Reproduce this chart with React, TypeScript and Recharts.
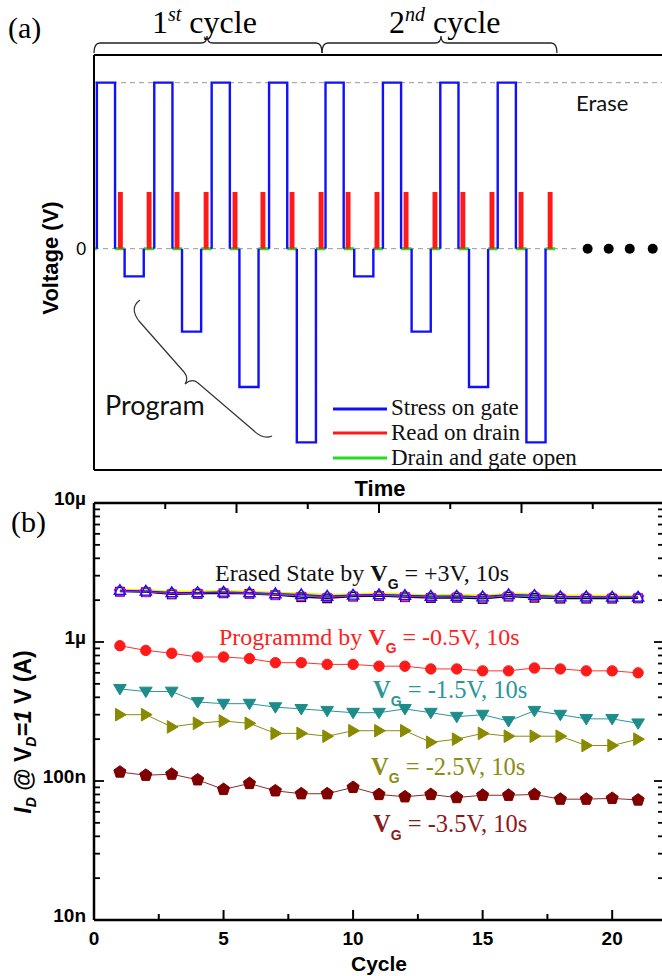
import { ComposedChart, Line, Scatter, XAxis, YAxis, ReferenceLine } from 'recharts';

// ---------- (a) pulse scheme: time in arbitrary units, voltage in V ----------
const eraseWindows = [[1.5, 11], [31.5, 41], [61.5, 71], [91.5, 101], [121, 130.5], [151, 160.5], [181, 190.5], [211, 220.5]];
const eraseLevels = [3, 3, 3, 3, 3, 3, 3, 3];
const programWindows = [[16, 26], [46, 56], [76, 86], [106, 116], [136, 146], [166, 176], [196, 206], [226, 236]];
const programLevels = [-0.5, -1.5, -2.5, -3.5, -0.5, -1.5, -2.5, -3.5];
const readWindows = [
  [13.2, 14.4], [28.2, 29.4], [42.8, 44], [58, 59.2], [73.1, 74.3], [87.7, 88.9], [102.9, 104.1], [118.1, 119.3],
  [132.2, 133.4], [147.3, 148.5], [162.5, 163.7], [177.6, 178.8], [192.2, 193.4], [207.4, 208.6], [222.6, 223.8], [237.8, 239],
];
const readLevels = [1, 1, 1, 1, 1, 1, 1, 1, 1, 1, 1, 1, 1, 1, 1, 1];
const openWindows = [
  [0, 1.5], [11, 16], [26, 31.5], [41, 46], [56, 61.5], [71, 76], [86, 91.5], [101, 106], [116, 121],
  [130.5, 136], [146, 151], [160.5, 166], [176, 181], [190.5, 196], [206, 211], [220.5, 226], [236, 241],
];
const ellipsisTimes = [258, 269, 280, 292];

// ---------- (b) retention vs cycle, current in µA ----------
const cycles = [1, 2, 3, 4, 5, 6, 7, 8, 9, 10, 11, 12, 13, 14, 15, 16, 17, 18, 19, 20, 21];
const erasedBlack = [2.30, 2.28, 2.20, 2.22, 2.24, 2.22, 2.17, 2.10, 2.06, 2.12, 2.14, 2.10, 2.07, 2.08, 2.04, 2.12, 2.08, 2.05, 2.05, 2.05, 2.06];
const erasedYellow = [2.38, 2.36, 2.30, 2.30, 2.32, 2.30, 2.26, 2.24, 2.18, 2.20, 2.24, 2.20, 2.17, 2.18, 2.16, 2.22, 2.20, 2.16, 2.16, 2.15, 2.14];
const erasedGreen = [2.34, 2.32, 2.25, 2.26, 2.28, 2.25, 2.21, 2.17, 2.13, 2.16, 2.18, 2.15, 2.12, 2.13, 2.11, 2.18, 2.15, 2.10, 2.10, 2.10, 2.10];
const erasedCyan = [2.33, 2.30, 2.24, 2.25, 2.27, 2.24, 2.20, 2.15, 2.10, 2.15, 2.17, 2.13, 2.10, 2.11, 2.08, 2.15, 2.12, 2.08, 2.09, 2.08, 2.08];
const erasedBlue = [2.36, 2.33, 2.27, 2.27, 2.29, 2.27, 2.23, 2.20, 2.14, 2.18, 2.20, 2.17, 2.14, 2.14, 2.12, 2.20, 2.17, 2.12, 2.12, 2.11, 2.11];
const erasedMagenta = [2.32, 2.30, 2.23, 2.25, 2.27, 2.23, 2.19, 2.15, 2.11, 2.15, 2.16, 2.13, 2.11, 2.12, 2.09, 2.16, 2.14, 2.10, 2.10, 2.09, 2.09];
const prog05 = [0.94, 0.87, 0.83, 0.78, 0.78, 0.76, 0.71, 0.71, 0.69, 0.69, 0.67, 0.67, 0.64, 0.64, 0.62, 0.62, 0.65, 0.64, 0.62, 0.62, 0.60];
const prog15 = [0.46, 0.44, 0.44, 0.37, 0.36, 0.36, 0.34, 0.33, 0.32, 0.31, 0.31, 0.33, 0.31, 0.29, 0.30, 0.27, 0.32, 0.30, 0.28, 0.28, 0.26];
const prog25 = [0.30, 0.30, 0.245, 0.26, 0.27, 0.26, 0.22, 0.22, 0.21, 0.23, 0.23, 0.23, 0.19, 0.20, 0.22, 0.21, 0.21, 0.21, 0.18, 0.18, 0.20];
const prog35 = [0.116, 0.110, 0.112, 0.102, 0.087, 0.096, 0.085, 0.081, 0.081, 0.090, 0.080, 0.077, 0.080, 0.076, 0.079, 0.079, 0.080, 0.074, 0.074, 0.075, 0.073];
const cycleTicks = [0, 2.5, 5, 7.5, 10, 12.5, 15, 17.5, 20];
const currentTicks = [
  0.01, 0.02, 0.03, 0.04, 0.05, 0.06, 0.07, 0.08, 0.09,
  0.1, 0.2, 0.3, 0.4, 0.5, 0.6, 0.7, 0.8, 0.9,
  1, 2, 3, 4, 5, 6, 7, 8, 9, 10,
];
const currentLabels: Record<string, string> = { '0.01': '10n', '0.1': '100n', '1': '1µ', '10': '10µ' };

type Pt = { t: number; v: number | null };
const pulseTrace = (win: number[][], lv: number[]): Pt[] =>
  win.flatMap(([s, e], i) => [
    { t: s, v: 0 }, { t: s, v: lv[i] }, { t: e, v: lv[i] }, { t: e, v: 0 }, { t: e, v: null },
  ]);
const gateTrace = [...pulseTrace(eraseWindows, eraseLevels), ...pulseTrace(programWindows, programLevels)];
const readTrace = pulseTrace(readWindows, readLevels);
const openTrace: Pt[] = openWindows.flatMap(([s, e]) => [{ t: s, v: 0 }, { t: e, v: 0 }, { t: e, v: null }]);
const ellipsis = ellipsisTimes.map((t) => ({ t, v: 0 }));

const rows = cycles.map((c, i) => ({
  cycle: c,
  eBlack: erasedBlack[i], eYellow: erasedYellow[i], eGreen: erasedGreen[i], eCyan: erasedCyan[i],
  eBlue: erasedBlue[i], eMagenta: erasedMagenta[i],
  p05: prog05[i], p15: prog15[i], p25: prog25[i], p35: prog35[i],
}));

const SERIF = 'Liberation Serif, Times New Roman, serif';
const SANS = 'Liberation Sans, Arial, sans-serif';
const CAL = 'Lato, Open Sans, sans-serif';

const marker = (kind: string, color: string, filled: boolean, r = 5.5) => (p: any) => {
  const { cx, cy, index } = p;
  const k = `${kind}${color}${index}`;
  if (cx == null || cy == null || Number.isNaN(cy)) return <g key={k} />;
  const fill = filled ? color : 'none';
  const sw = filled ? 1 : 1.3;
  if (kind === 'circle') return <circle key={k} cx={cx} cy={cy} r={r} fill={fill} stroke={color} strokeWidth={sw} />;
  if (kind === 'square') return <rect key={k} x={cx - r * 0.85} y={cy - r * 0.85} width={r * 1.7} height={r * 1.7} fill={fill} stroke={color} strokeWidth={sw} />;
  let pts: number[][] = [];
  if (kind === 'down') pts = [[cx - r * 1.15, cy - r * 0.8], [cx + r * 1.15, cy - r * 0.8], [cx, cy + r * 1.1]];
  if (kind === 'up') pts = [[cx - r * 1.1, cy + r * 0.8], [cx + r * 1.1, cy + r * 0.8], [cx, cy - r * 1.1]];
  if (kind === 'right') pts = [[cx - r * 0.8, cy - r * 1.15], [cx + r * 1.15, cy], [cx - r * 0.8, cy + r * 1.15]];
  if (kind === 'pent') pts = [0, 1, 2, 3, 4].map((j) => {
    const a = (-90 + 72 * j) * Math.PI / 180;
    return [cx + r * 1.1 * Math.cos(a), cy + r * 1.1 * Math.sin(a)];
  });
  return <polygon key={k} points={pts.map((q) => q.join(',')).join(' ')} fill={fill} stroke={color} strokeWidth={sw} />;
};

const BottomTick = (p: any) => {
  const { x, y, payload } = p;
  const major = payload.value % 5 === 0;
  return (
    <g>
      <line x1={x} y1={y} x2={x} y2={y - (major ? 10 : 6)} stroke="#000" strokeWidth={2} />
      {major && (
        <text x={x} y={y + 25} textAnchor="middle" fontFamily={SANS} fontWeight="bold" fontSize={19} fill="#000">
          {payload.value}
        </text>
      )}
    </g>
  );
};
const TopTick = (p: any) => {
  const { x, y, payload } = p;
  const major = payload.value % 5 === 0;
  return <line x1={x} y1={y} x2={x} y2={y + (major ? 10 : 6)} stroke="#000" strokeWidth={2} />;
};
const LeftTick = (p: any) => {
  const { x, y, payload } = p;
  const lab = currentLabels[String(payload.value)];
  return (
    <g>
      <line x1={x} y1={y} x2={x + (lab ? 10 : 6)} y2={y} stroke="#000" strokeWidth={1.8} />
      {lab && (
        <text x={x - 8} y={y + 2} textAnchor="end" fontFamily={SANS} fontWeight="bold" fontSize={19} fill="#000">
          {lab}
        </text>
      )}
    </g>
  );
};
const RightTick = (p: any) => {
  const { x, y, payload } = p;
  const lab = currentLabels[String(payload.value)];
  return <line x1={x} y1={y} x2={x - (lab ? 10 : 6)} y2={y} stroke="#000" strokeWidth={1.8} />;
};

const VG = ({ color, dy = 8 }: { color: string; dy?: number }) => (
  <>
    <tspan fontWeight="bold">V</tspan>
    <tspan fontFamily={SANS} fontWeight="bold" fontSize={14} dy={dy} fill={color}>G</tspan>
  </>
);

const PanelA = () => (
  <ComposedChart width={668} height={500} margin={{ top: 55, right: 0, bottom: 0, left: 0 }}>
    <XAxis dataKey="t" type="number" domain={[0, 300]} allowDataOverflow tick={false} tickLine={false}
      axisLine={{ stroke: '#000', strokeWidth: 2 }} height={30} />
    <YAxis dataKey="v" type="number" domain={[-4, 3.5]} allowDataOverflow ticks={[0]} tickLine={false}
      axisLine={{ stroke: '#000', strokeWidth: 2 }} width={94}
      tick={{ fill: '#000', fontSize: 17, fontFamily: CAL }} />
    <ReferenceLine y={3.5} stroke="#000" strokeWidth={2} />
    <ReferenceLine y={3} stroke="#9a9a9a" strokeDasharray="5 4" />
    <ReferenceLine segment={[{ x: 0, y: 0 }, { x: 252, y: 0 }]} stroke="#9a9a9a" strokeDasharray="5 4" />
    <Line data={openTrace} dataKey="v" stroke="#22dd22" strokeWidth={3} dot={false} isAnimationActive={false} />
    <Line data={readTrace} dataKey="v" stroke="#ff1a1a" strokeWidth={2.6} dot={false} isAnimationActive={false} />
    <Line data={gateTrace} dataKey="v" stroke="#1010ff" strokeWidth={2.4} dot={false} isAnimationActive={false} />
    <Scatter data={ellipsis} dataKey="v" isAnimationActive={false}
      shape={(p: any) => <circle cx={p.cx} cy={p.cy} r={5} fill="#000" />} />
  </ComposedChart>
);

const PanelB = () => (
  <ComposedChart width={700} height={496} data={rows} margin={{ top: 22, right: 0, bottom: 0, left: 0 }}>
    <XAxis dataKey="cycle" type="number" domain={[0, 22]} ticks={cycleTicks} interval={0} tickSize={0} tickMargin={0}
      tick={BottomTick} axisLine={{ stroke: '#000', strokeWidth: 2.5 }} height={56}
      label={{ value: 'Cycle', position: 'insideBottom', offset: 5, fill: '#000', fontFamily: SANS, fontWeight: 'bold', fontSize: 21 }} />
    <XAxis xAxisId="top" orientation="top" type="number" domain={[0, 22]} ticks={cycleTicks} interval={0}
      tickSize={0} tickMargin={0} tick={TopTick} axisLine={{ stroke: '#000', strokeWidth: 2.5 }} height={1} />
    <YAxis type="number" scale="log" domain={[0.01, 10]} allowDataOverflow ticks={currentTicks} interval={0}
      tickSize={0} tickMargin={0} tick={LeftTick} axisLine={{ stroke: '#000', strokeWidth: 2.5 }} width={94} />
    <YAxis yAxisId="right" orientation="right" type="number" scale="log" domain={[0.01, 10]} allowDataOverflow
      ticks={currentTicks} interval={0} tickSize={0} tickMargin={0} tick={RightTick}
      axisLine={{ stroke: '#000', strokeWidth: 2.5 }} width={36} />

    <Line dataKey="eYellow" stroke="#f0f000" strokeWidth={2.2} dot={false} isAnimationActive={false} />
    <Line dataKey="eGreen" stroke="#00b000" strokeWidth={1.6} dot={false} isAnimationActive={false} />
    <Line dataKey="eCyan" stroke="#00e0e0" strokeWidth={1.6} dot={false} isAnimationActive={false} />
    <Line dataKey="eBlack" stroke="#000" strokeWidth={1.2} dot={marker('square', '#000', false, 5)} isAnimationActive={false} />
    <Line dataKey="eMagenta" stroke="#e000e0" strokeWidth={1} dot={marker('pent', '#e000e0', false, 5.2)} isAnimationActive={false} />
    <Line dataKey="eBlue" stroke="#1010ff" strokeWidth={1} dot={marker('up', '#1010ff', false, 5.2)} isAnimationActive={false} />

    <Line dataKey="p05" stroke="#ff3030" strokeWidth={1} dot={marker('circle', '#ff1a1a', true, 5.2)} isAnimationActive={false} />
    <Line dataKey="p15" stroke="#2a9696" strokeWidth={1} dot={marker('down', '#1f8c8c', true, 5.5)} isAnimationActive={false} />
    <Line dataKey="p25" stroke="#8c8c14" strokeWidth={1} dot={marker('right', '#8a8a00', true, 5.5)} isAnimationActive={false} />
    <Line dataKey="p35" stroke="#8b2a2a" strokeWidth={1} dot={marker('pent', '#800000', true, 5.8)} isAnimationActive={false} />
  </ComposedChart>
);

const Overlay = () => (
  <svg width={662} height={976} style={{ position: 'absolute', left: 0, top: 0, pointerEvents: 'none' }}>
    {/* panel (a) annotations */}
    <text x={8} y={38} fontFamily={SERIF} fontSize={30} fill="#000">(a)</text>
    <text x={152} y={33} fontFamily={SERIF} fontSize={32} fill="#000">
      1<tspan fontSize={20} fontStyle="italic" dy={-12}>st</tspan><tspan dy={12}>{' cycle'}</tspan>
    </text>
    <text x={389} y={33} fontFamily={SERIF} fontSize={32} fill="#000">
      2<tspan fontSize={20} fontStyle="italic" dy={-12}>nd</tspan><tspan dy={12}>{' cycle'}</tspan>
    </text>
    <path d="M94,53 Q94,43 100,43 L201,43 Q207,43 207,36 Q207,43 213,43 L316,43 Q322,43 322,53" fill="none" stroke="#222" strokeWidth={1.3} />
    <path d="M322,53 Q322,43 328,43 L435,43 Q441,43 441,36 Q441,43 447,43 L551,43 Q557,43 557,53" fill="none" stroke="#222" strokeWidth={1.3} />
    <text x={576} y={111} fontFamily={CAL} fontSize={22} fill="#111">Erase</text>
    <text x={105} y={415} fontFamily={CAL} fontSize={27} fill="#111">Program</text>
    <path d="M140,300 Q129,308 139,321 L184,372 Q189,378 185,384 Q192,378 198,383 L253,430 Q263,440 272,436" fill="none" stroke="#333" strokeWidth={1.2} />
    <line x1={333} y1={409} x2={387} y2={409} stroke="#1010ff" strokeWidth={3} />
    <line x1={333} y1={433} x2={387} y2={433} stroke="#ff1a1a" strokeWidth={3} />
    <line x1={333} y1={458} x2={387} y2={458} stroke="#22dd22" strokeWidth={3} />
    <text x={391} y={415} fontFamily={SERIF} fontSize={23} fill="#111">Stress on gate</text>
    <text x={391} y={440} fontFamily={SERIF} fontSize={23} fill="#111">Read on drain</text>
    <text x={391} y={465} fontFamily={SERIF} fontSize={23} fill="#111">Drain and gate open</text>
    <text transform="translate(58,258) rotate(-90)" textAnchor="middle" fontFamily={SANS} fontWeight="bold" fontSize={22} fill="#000">Voltage (V)</text>
    <text x={380} y={496} textAnchor="middle" fontFamily={SANS} fontWeight="bold" fontSize={22} fill="#000">Time</text>

    {/* panel (b) annotations */}
    <text x={11} y={532} fontFamily={SERIF} fontSize={30} fill="#000">(b)</text>
    <text transform="translate(31,732) rotate(-90)" textAnchor="middle" fontFamily={SANS} fontWeight="bold" fontSize={23} fill="#000">
      <tspan fontStyle="italic">I</tspan>
      <tspan fontStyle="italic" fontSize={14} dy={5}>D</tspan>
      <tspan dy={-5}>{' @ V'}</tspan>
      <tspan fontStyle="italic" fontSize={14} dy={5}>D</tspan>
      <tspan dy={-5} fontStyle="italic">=1</tspan>
      <tspan>{' V (A)'}</tspan>
    </text>
    <text x={215} y={581} fontFamily={SERIF} fontSize={24} fill="#111">
      {'Erased State by '}<VG color="#111" /><tspan dy={-8}>{' = +3V, 10s'}</tspan>
    </text>
    <text x={219} y={645} fontFamily={SERIF} fontSize={24} fill="#ff2020">
      {'Programmd by '}<VG color="#ff2020" /><tspan dy={-8}>{' = -0.5V, 10s'}</tspan>
    </text>
    <text x={373} y={698} fontFamily={SERIF} fontSize={24.5} fill="#2a9696">
      <VG color="#2a9696" /><tspan dy={-8}>{' = -1.5V, 10s'}</tspan>
    </text>
    <text x={371} y={775} fontFamily={SERIF} fontSize={24.5} fill="#8c8c14">
      <VG color="#8c8c14" /><tspan dy={-8}>{' = -2.5V, 10s'}</tspan>
    </text>
    <text x={373} y={832} fontFamily={SERIF} fontSize={24.5} fill="#8b1a1a">
      <VG color="#8b1a1a" /><tspan dy={-8}>{' = -3.5V, 10s'}</tspan>
    </text>
  </svg>
);

export default function App() {
  return (
    <div style={{ position: 'absolute', left: 0, top: 0, width: 662, height: 976, overflow: 'hidden', background: '#fff' }}>
      <div style={{ position: 'absolute', left: 0, top: 0 }}>
        <PanelA />
      </div>
      <div style={{ position: 'absolute', left: 0, top: 480 }}>
        <PanelB />
      </div>
      <Overlay />
    </div>
  );
}
